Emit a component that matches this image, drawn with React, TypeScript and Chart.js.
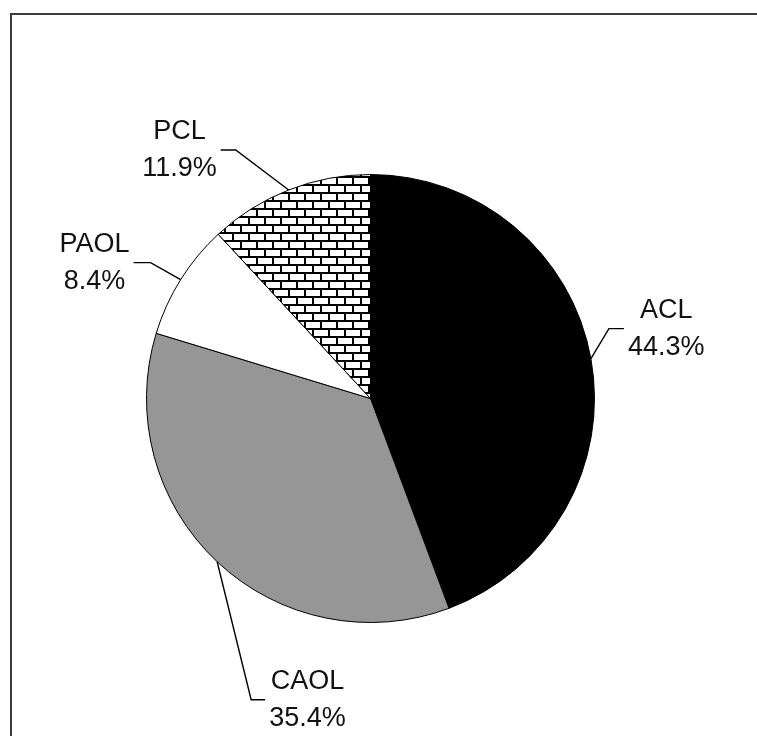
import React, { useEffect, useRef } from 'react';
import { Chart, registerables } from 'chart.js';

Chart.register(...registerables);

const categories = ['ACL', 'CAOL', 'PAOL', 'PCL'];
const shares = [44.3, 35.4, 8.4, 11.9];
const fillKinds = ['black', 'gray', 'white', 'brick'];

// leader line layout (elbow offset from slice edge, horizontal tail length)
const leaderLayout = [
  { dx: 18, dy: -30, tail: 15 },
  { dx: 34, dy: 138, tail: 14 },
  { dx: -30, dy: -17, tail: -17 },
  { dx: -53, dy: -40, tail: -15 },
];

function makeBrick(): CanvasPattern | string {
  const c = document.createElement('canvas');
  c.width = 16;
  c.height = 16;
  const g = c.getContext('2d');
  if (!g) return '#fff';
  g.fillStyle = '#fff';
  g.fillRect(0, 0, 16, 16);
  g.fillStyle = '#000';
  g.fillRect(0, 0, 16, 2);
  g.fillRect(0, 8, 16, 2);
  g.fillRect(0, 2, 2, 6);
  g.fillRect(8, 10, 2, 6);
  return g.createPattern(c, 'repeat') || '#fff';
}

export default function App() {
  const ref = useRef<HTMLCanvasElement | null>(null);

  useEffect(() => {
    if (!ref.current) return;
    const brick = makeBrick();
    const colorMap: Record<string, any> = {
      black: '#000000',
      gray: '#969696',
      white: '#ffffff',
      brick,
    };

    const framePlugin = {
      id: 'frame',
      beforeDraw(chart: any) {
        const ctx = chart.ctx;
        ctx.save();
        ctx.fillStyle = '#fff';
        ctx.fillRect(0, 0, chart.width, chart.height);
        ctx.strokeStyle = '#3a3a3a';
        ctx.lineWidth = 2;
        ctx.beginPath();
        ctx.moveTo(11, chart.height + 5);
        ctx.lineTo(11, 14);
        ctx.lineTo(chart.width + 5, 14);
        ctx.stroke();
        ctx.restore();
      },
    };

    const labelPlugin = {
      id: 'sliceLabels',
      afterDraw(chart: any) {
        const ctx = chart.ctx;
        const meta = chart.getDatasetMeta(0);
        ctx.save();
        ctx.font = '27px "Liberation Sans", Arial, sans-serif';
        ctx.textBaseline = 'middle';
        ctx.textAlign = 'center';
        meta.data.forEach((arc: any, i: number) => {
          const p = arc.getProps(['x', 'y', 'startAngle', 'endAngle', 'outerRadius'], true);
          const mid = (p.startAngle + p.endAngle) / 2;
          const ax = p.x + Math.cos(mid) * p.outerRadius;
          const ay = p.y + Math.sin(mid) * p.outerRadius;
          const lay = leaderLayout[i];
          const ex = ax + lay.dx;
          const ey = ay + lay.dy;
          const tx = ex + lay.tail;
          ctx.strokeStyle = '#000';
          ctx.lineWidth = 1.4;
          ctx.beginPath();
          ctx.moveTo(ax, ay);
          ctx.lineTo(ex, ey);
          ctx.lineTo(tx, ey);
          ctx.stroke();
          const lines = [categories[i], shares[i].toFixed(1) + '%'];
          const w = Math.max(...lines.map((l) => ctx.measureText(l).width));
          const cx = lay.tail > 0 ? tx + 4 + w / 2 : tx - 4 - w / 2;
          ctx.fillStyle = '#111';
          ctx.fillText(lines[0], cx, ey - 18.5);
          ctx.fillText(lines[1], cx, ey + 18.5);
        });
        ctx.restore();
      },
    };

    const chart = new Chart(ref.current, {
      type: 'pie',
      data: {
        labels: categories,
        datasets: [
          {
            data: shares,
            backgroundColor: fillKinds.map((k) => colorMap[k]),
            borderColor: '#000',
            borderWidth: 1,
          },
        ],
      },
      options: {
        responsive: false,
        animation: false,
        layout: { padding: { left: 146, right: 162, top: 174, bottom: 113 } },
        plugins: {
          legend: { display: false },
          tooltip: { enabled: false },
          title: { display: false },
        },
      },
      plugins: [framePlugin, labelPlugin],
    } as any);

    return () => chart.destroy();
  }, []);

  return (
    <div style={{ position: 'fixed', left: 0, top: 0, width: 757, height: 736, background: '#fff' }}>
      <canvas ref={ref} width={757} height={736} style={{ display: 'block' }} />
    </div>
  );
}
